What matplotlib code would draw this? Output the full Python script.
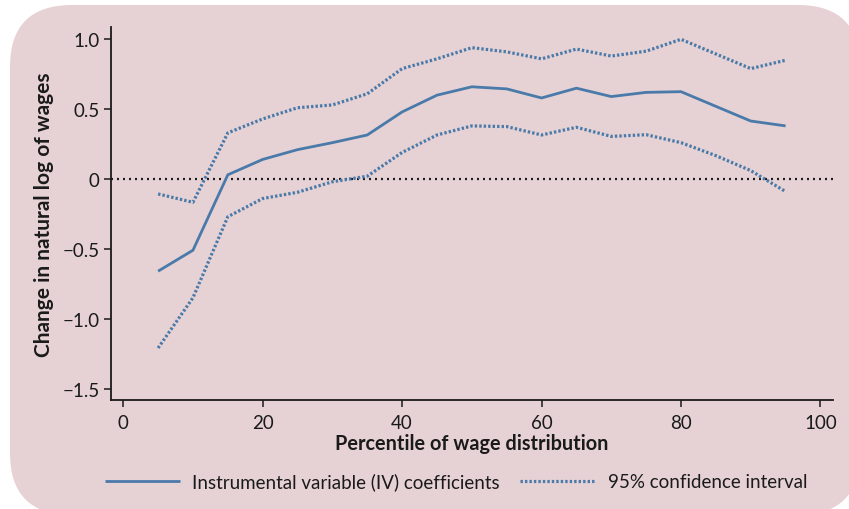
import matplotlib
matplotlib.use("Agg")
import matplotlib.pyplot as plt
from matplotlib.patches import FancyBboxPatch
from matplotlib.transforms import IdentityTransform

plt.rcParams['font.family'] = ['Lato', 'DejaVu Sans']

percentiles = [5, 10, 15, 20, 25, 30, 35, 40, 45, 50, 55, 60, 65, 70, 75, 80, 85, 90, 95]
iv_coef = [-0.66, -0.51, 0.03, 0.14, 0.21, 0.26, 0.315, 0.48, 0.60, 0.66, 0.645, 0.58, 0.65,
           0.59, 0.62, 0.625, 0.52, 0.415, 0.38]
ci_upper = [-0.107, -0.167, 0.33, 0.43, 0.51, 0.53, 0.61, 0.79, 0.86, 0.94, 0.91, 0.86, 0.93,
            0.88, 0.915, 1.0, 0.895, 0.79, 0.85]
ci_lower = [-1.21, -0.85, -0.27, -0.14, -0.095, -0.02, 0.02, 0.19, 0.315, 0.38, 0.375, 0.315,
            0.37, 0.305, 0.317, 0.26, 0.167, 0.06, -0.09]
x_ticks = [0, 20, 40, 60, 80, 100]
y_ticks = [-1.5, -1.0, -0.5, 0, 0.5, 1.0]
y_tick_labels = ['\u22121.5', '\u22121.0', '\u22120.5', '0', '0.5', '1.0']

BG = '#e6d2d4'
BLUE = '#4a7aa9'

W, H = 849, 510
fig = plt.figure(figsize=(W / 100, H / 100), dpi=100)
fig.patch.set_facecolor('white')

# rounded background panel (pixel coordinates, origin bottom-left)
panel = FancyBboxPatch((10, -6), 850, 510, boxstyle="round,pad=0,rounding_size=62",
                       transform=IdentityTransform(), facecolor=BG, edgecolor='none', zorder=0)
fig.add_artist(panel)

ax = fig.add_axes([110.7 / W, 1 - 400.7 / H, (833 - 110.7) / W, (400.7 - 28) / H])
ax.set_facecolor('none')

ax.axhline(0, color='#1a1a1a', lw=1.6, linestyle=(0, (0.9, 1.8)), zorder=1)
ax.plot(percentiles, iv_coef, color=BLUE, lw=2.0, solid_capstyle='butt', zorder=3,
        label='Instrumental variable (IV) coefficients')
ax.plot(percentiles, ci_upper, color=BLUE, lw=2.3, linestyle=(0, (0.75, 0.65)), zorder=3,
        label='95% confidence interval')
ax.plot(percentiles, ci_lower, color=BLUE, lw=2.3, linestyle=(0, (0.75, 0.65)), zorder=3)

ax.set_xlim(-1.8, 101.8)
ax.set_ylim(-1.58, 1.088)
ax.set_xticks(x_ticks)
ax.set_yticks(y_ticks)
ax.set_yticklabels(y_tick_labels)

for s in ['top', 'right']:
    ax.spines[s].set_visible(False)
for s in ['left', 'bottom']:
    ax.spines[s].set_linewidth(1.3)
    ax.spines[s].set_color('#1a1a1a')

ax.tick_params(axis='both', direction='out', length=5, width=1.1, colors='#1a1a1a',
               labelsize=13.5, labelcolor='#1a1a1a')
ax.tick_params(axis='x', pad=5)
ax.tick_params(axis='y', pad=3)

ax.set_xlabel('Percentile of wage distribution', fontsize=14.3, fontweight='bold',
              color='#1a1a1a', labelpad=2)
ax.set_ylabel('Change in natural log of wages', fontsize=15, fontweight='bold',
              color='#1a1a1a', labelpad=6)

leg = ax.legend(loc='upper center', bbox_to_anchor=(0.478, -0.15), ncol=2, frameon=False,
                fontsize=13.5, handlelength=4.0, handletextpad=0.65, columnspacing=1.1,
                labelcolor='#1a1a1a')

fig.savefig('out.png', dpi=100, facecolor='white')
